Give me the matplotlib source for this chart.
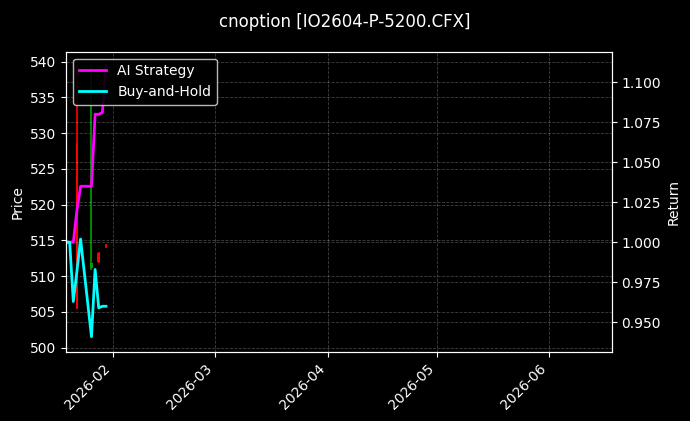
import numpy as np
import pandas as pd
import matplotlib as mpl
mpl.use('Agg')
import matplotlib.pyplot as plt

# daily bars (only a few days have visible candles)
bar_dates = ['2026-01-22', '2026-01-26', '2026-01-28', '2026-01-30']
bar_open = [528.6, 511.2, 513.2, 514.3]
bar_high = [539.5, 539.5, 513.4, 514.5]
bar_low = [505.4, 510.9, 511.9, 514.0]
bar_close = [505.5, 511.8, 512.0, 514.1]

# cumulative returns
ret_dates = ['2026-01-19', '2026-01-20', '2026-01-21', '2026-01-22', '2026-01-23',
             '2026-01-26', '2026-01-27', '2026-01-28', '2026-01-29', '2026-01-30']
ai_strategy = [1.000, 1.000, 1.000, 1.020, 1.035, 1.035, 1.080, 1.080, 1.081, 1.1106]
buy_hold = [1.000, 1.000, 0.963, 0.982, 1.002, 0.941, 0.983, 0.959, 0.960, 0.960]

title = 'cnoption [IO2604-P-5200.CFX]'

plt.style.use('dark_background')
fig = plt.figure(figsize=(6.9, 4.21), dpi=100)
ax = fig.add_axes([0.0957, 0.1646, 0.7908, 0.7126])
ax2 = ax.twinx()

bd = pd.to_datetime(bar_dates)
rd = pd.to_datetime(ret_dates)

# candles
for d, o, h, l, c in zip(bd, bar_open, bar_high, bar_low, bar_close):
    col = 'red' if c < o else '#00a000'
    ax.vlines(d, l, h, color=col, linewidth=1.2)
    ax.bar(d, abs(c - o), bottom=min(o, c), width=0.7, color=col, linewidth=0)

ax2.plot(rd, ai_strategy, color='#ff00ff', linewidth=2, label='AI Strategy')
ax2.plot(rd, buy_hold, color='#00ffff', linewidth=2, label='Buy-and-Hold')

ax.set_xlim(pd.Timestamp('2026-01-19'), pd.Timestamp('2026-06-18 04:00'))
ax.set_ylim(499.44, 541.4)
ax2.set_ylim(0.9316, 1.1191)
ax.set_yticks(np.arange(500, 541, 5))
ax2.set_yticks(np.arange(0.95, 1.101, 0.025))
ax2.yaxis.set_major_formatter(mpl.ticker.FormatStrFormatter('%.3f'))

ax.xaxis.set_major_locator(mpl.dates.MonthLocator())
ax.xaxis.set_major_formatter(mpl.dates.DateFormatter('%Y-%m'))
plt.setp(ax.get_xticklabels(), rotation=45, ha='right')

ax.grid(True, linestyle='--', linewidth=0.6, alpha=0.25)
ax2.grid(True, linestyle='--', linewidth=0.6, alpha=0.25)

ax.set_ylabel('Price')
ax2.set_ylabel('Return')
ax2.legend(loc='upper left', facecolor='black', edgecolor='#cccccc', framealpha=0.9)
fig.suptitle(title, fontsize=12, y=0.97)

fig.savefig('out.png', dpi=100, facecolor='black')
plt.close()
